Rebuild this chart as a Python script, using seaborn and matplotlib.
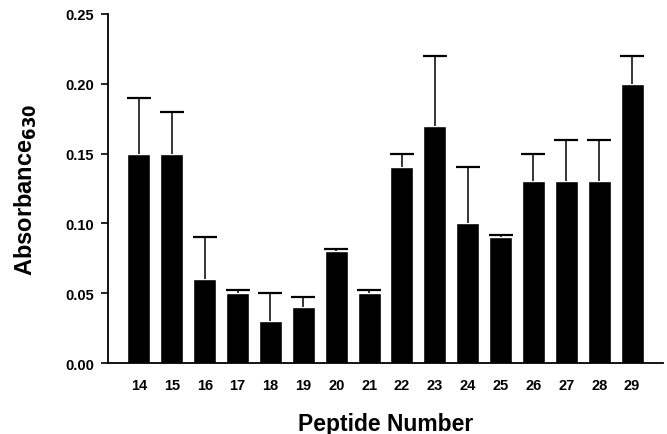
import numpy as np
import pandas as pd
import seaborn as sns
import matplotlib.pyplot as plt

peptides = ['14', '15', '16', '17', '18', '19', '20', '21',
            '22', '23', '24', '25', '26', '27', '28', '29']
absorbance = [0.15, 0.15, 0.06, 0.05, 0.03, 0.04, 0.08, 0.05,
              0.14, 0.17, 0.10, 0.09, 0.13, 0.13, 0.13, 0.20]
error_up = [0.04, 0.03, 0.03, 0.002, 0.02, 0.007, 0.002, 0.002,
            0.01, 0.05, 0.04, 0.002, 0.02, 0.03, 0.03, 0.02]

df = pd.DataFrame({'Peptide': peptides, 'Absorbance': absorbance, 'Err': error_up})

sns.set_style('ticks', {'text.color': 'black', 'axes.labelcolor': 'black',
                        'xtick.color': 'black', 'ytick.color': 'black',
                        'axes.edgecolor': 'black'})
plt.rcParams['font.family'] = ['Liberation Sans', 'DejaVu Sans']

fig = plt.figure(figsize=(6.67, 4.35), dpi=100)
ax = fig.add_axes([0.162, 0.163, 0.832, 0.803])

sns.barplot(data=df, x='Peptide', y='Absorbance', color='black', width=0.7,
            saturation=1, errorbar=None, ax=ax)

# upper-only error bars at the bar centres
centres = [p.get_x() + p.get_width() / 2 for p in ax.patches]
eb = ax.errorbar(centres, df['Absorbance'], yerr=[np.zeros(len(df)), df['Err']],
                 fmt='none', ecolor='black', elinewidth=1.1, capsize=8.5, capthick=1.6)
eb[1][0].set_visible(False)  # hide the lower caps

ax.set_xlim(-0.94, len(peptides) - 1 + 0.94)
ax.set_ylim(0, 0.25)
ax.set_yticks([0.0, 0.05, 0.10, 0.15, 0.20, 0.25])
ax.set_yticklabels(['0.00', '0.05', '0.10', '0.15', '0.20', '0.25'])
sns.despine(ax=ax)

ax.tick_params(axis='x', length=0, pad=11, labelsize=10.5, labelcolor='black')
ax.tick_params(axis='y', length=5, width=1.2, direction='out', labelsize=10.5, pad=5,
               color='black', labelcolor='black')
for lab in ax.get_xticklabels() + ax.get_yticklabels():
    lab.set_fontweight('bold')
for s in ['left', 'bottom']:
    ax.spines[s].set_linewidth(1.3)
    ax.spines[s].set_color('black')

ax.set_xlabel('Peptide Number', fontsize=16.5, fontweight='bold', labelpad=14, color='black')
ax.set_ylabel('Absorbance$_{\\mathbf{630}}$', fontsize=17, fontweight='bold', labelpad=19,
              color='black')

plt.savefig('out.png', dpi=100)
